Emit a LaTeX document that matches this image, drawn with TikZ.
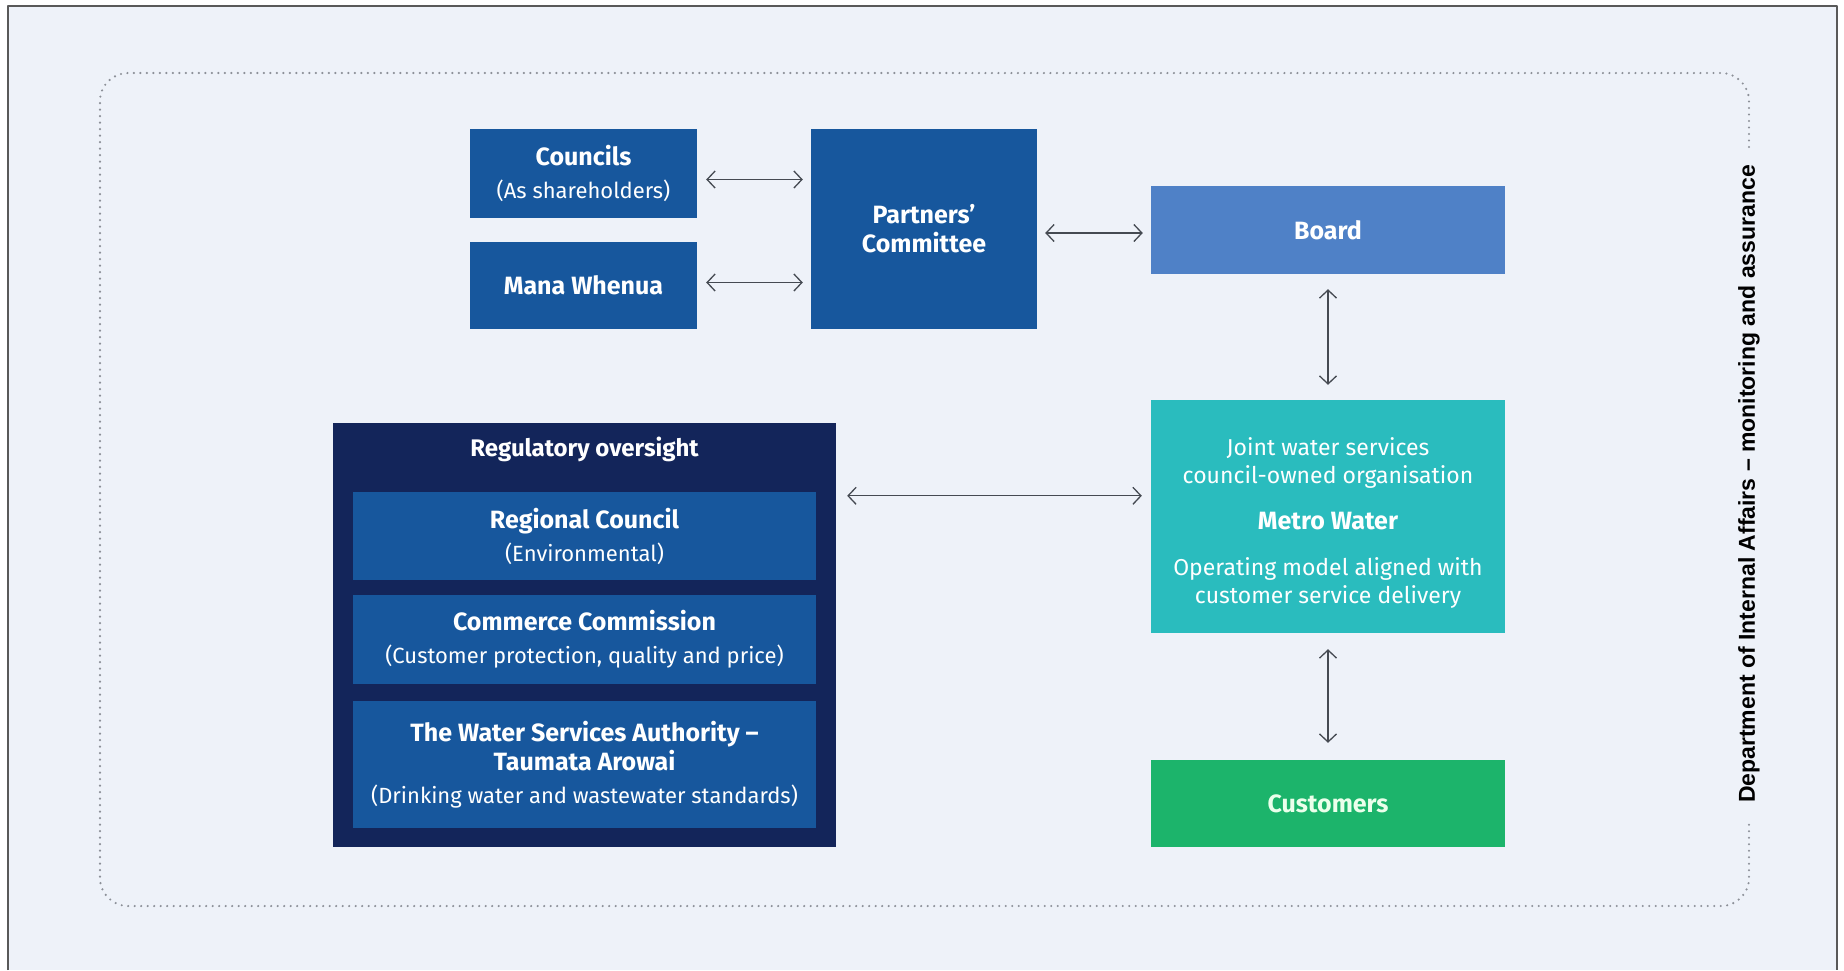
\documentclass[tikz,border=0pt]{standalone}
\usepackage{fontspec}
\setmainfont{Fira Sans}
\newfontfamily\sidefont{Liberation Sans}
\usetikzlibrary{arrows.meta}
\definecolor{paper}{HTML}{EEF2F9}
\definecolor{midblue}{HTML}{17579D}
\definecolor{navy}{HTML}{13255A}
\definecolor{boardblue}{HTML}{4F81C7}
\definecolor{metroteal}{HTML}{2ABCBE}
\definecolor{custgreen}{HTML}{1CB46B}
\definecolor{arrowgrey}{HTML}{454A52}
\definecolor{dotgrey}{HTML}{8C9098}
\newcommand{\hd}[1]{{\fontsize{25}{29}\selectfont\bfseries #1}}

\begin{document}
\begin{tikzpicture}[x=1pt,y=-1pt,line join=round,
  box/.style={fill=midblue,text=white,align=center,inner sep=0pt,
    font=\fontsize{22}{29}\selectfont},
  link/.style={draw=arrowgrey,line width=1.3pt,
    {Straight Barb[length=8pt,width=17pt]}-{Straight Barb[length=8pt,width=17pt]}}]
  \useasboundingbox (0,0) rectangle (1844,970);
  \fill[white] (0,0) rectangle (1844,970);
  \fill[paper] (8,6) rectangle (1837,970);
  \draw[gray!70!black,line width=1.5pt] (8,970) -- (8,6) -- (1837,6) -- (1837,970);
  % dotted frame, open where the side label sits
  \draw[dotgrey,line width=2.4pt,dash pattern=on 0pt off 6.5pt,line cap=round,
    rounded corners=28pt]
    (1749,147) -- (1749,73) -- (100,73) -- (100,906) -- (1749,906) -- (1749,823);
  \node[rotate=90,font=\sidefont\bfseries\fontsize{23}{26}\selectfont] (dia) at (1749,484)
    {Department of Internal Affairs – monitoring and assurance};

  \node[box,minimum width=227pt,minimum height=89pt] (councils) at (583.5,173.5)
    {\hd{Councils}\\[4pt](As shareholders)};
  \node[box,minimum width=227pt,minimum height=87pt] (mana) at (583.5,285.5)
    {\hd{Mana Whenua}};
  \node[box,minimum width=226pt,minimum height=200pt] (partners) at (924,229)
    {\hd{Partners’}\\\hd{Committee}};
  \node[box,fill=boardblue,minimum width=354pt,minimum height=88pt] (board) at (1328,230)
    {\hd{Board}};
  \node[box,fill=metroteal,minimum width=354pt,minimum height=233pt] (metro) at (1328,516.5) {};
  \node[box,fill=none,font=\fontsize{23}{28}\selectfont] (metrotext)
    at ([yshift=-6pt]metro.center)
    {Joint water services\\council-owned organisation\\[18pt]\hd{Metro Water}\\[18pt]
     Operating model aligned with\\customer service delivery};
  \node[box,fill=custgreen,text=green!8!white,minimum width=354pt,minimum height=87pt]
    (customers) at (1328,803.5) {\hd{Customers}};

  \node[box,fill=navy,minimum width=503pt,minimum height=424pt] (regulatory) at (584.5,635) {};
  \node[text=white,font=\bfseries\fontsize{24}{28}\selectfont] (regtitle) at (584.5,449)
    {Regulatory oversight};
  \node[box,minimum width=463pt,minimum height=88pt] (regional) at (584.5,536)
    {\hd{Regional Council}\\[4pt](Environmental)};
  \node[box,minimum width=463pt,minimum height=89pt] (commerce) at (584.5,639.5)
    {\hd{Commerce Commission}\\[4pt](Customer protection, quality and price)};
  \node[box,minimum width=463pt,minimum height=127pt] (authority) at (584.5,764.5)
    {\hd{The Water Services Authority –}\\\hd{Taumata Arowai}\\[4pt]
     (Drinking water and wastewater standards)};

  \draw[link,shorten <=9pt,shorten >=8pt]
    ([yshift=-6pt]councils.east) -- ([yshift=-6pt]partners.west |- councils.east);
  \draw[link,shorten <=9pt,shorten >=8pt]
    ([yshift=3pt]mana.east) -- ([yshift=3pt]partners.west |- mana.east);
  \draw[link,shorten <=8pt,shorten >=8pt]
    ([yshift=-3pt]partners.east |- board.west) -- ([yshift=-3pt]board.west);
  \draw[link,shorten <=15pt,shorten >=15pt] (board.south) -- (metro.north);
  \draw[link,shorten <=11pt,shorten >=9pt]
    ([yshift=-4pt]regulatory.east |- regional.north) -- ([yshift=-4pt]metro.west |- regional.north);
  \draw[link,shorten <=16pt,shorten >=17pt] (metro.south) -- (customers.north);
\end{tikzpicture}
\end{document}
